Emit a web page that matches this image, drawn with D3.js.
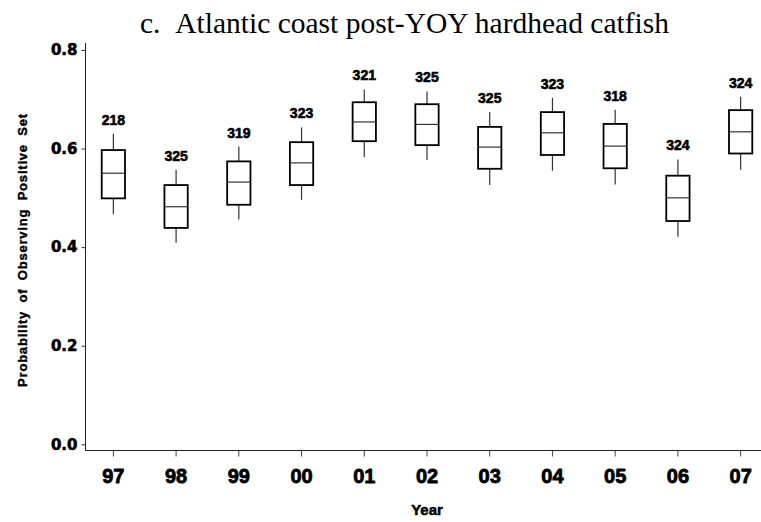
<!DOCTYPE html>
<html>
<head>
<meta charset="utf-8">
<script src="https://cdn.jsdelivr.net/npm/d3@7"></script>
<style>
  html, body { margin: 0; padding: 0; background: #fff; }
  svg { display: block; }
</style>
</head>
<body>
<svg id="chart" width="761" height="522"></svg>
<script>
const years = ["97","98","99","00","01","02","03","04","05","06","07"];
const counts = [218,325,319,323,321,325,325,323,318,324,324];
const whiskerHigh = [0.630,0.557,0.604,0.643,0.720,0.716,0.674,0.703,0.679,0.578,0.705];
const q3 =          [0.597,0.526,0.574,0.613,0.694,0.690,0.644,0.674,0.650,0.545,0.678];
const median =      [0.550,0.482,0.532,0.571,0.654,0.649,0.603,0.632,0.605,0.500,0.634];
const q1 =          [0.499,0.439,0.486,0.526,0.615,0.607,0.559,0.587,0.560,0.453,0.590];
const whiskerLow =  [0.467,0.409,0.456,0.496,0.583,0.577,0.526,0.555,0.527,0.421,0.557];
const yTicks = [0.0, 0.2, 0.4, 0.6, 0.8];

const titleText = "c.\u00a0\u00a0Atlantic coast post-YOY hardhead catfish";
const yTitle = "Probability of Observing Positive Set";
const xTitle = "Year";

const svg = d3.select("#chart");
const x = d3.scaleBand().domain(years).range([82, 772]).padding(0);
const y = d3.scaleLinear().domain([0, 0.8]).range([444.3, 50]);
const boxW = 23.3;
const axisX = 85.5, axisY = 450.5;

function heavy(sel, w) {
  sel.attr("stroke", "#000").attr("stroke-width", w).attr("stroke-linejoin", "round").attr("paint-order", "stroke");
}

// Title
svg.append("text")
  .attr("x", 404.5).attr("y", 33)
  .attr("text-anchor", "middle")
  .style("font-family", "'Liberation Serif', 'Times New Roman', serif")
  .style("font-size", "29.5px")
  .text(titleText);

// Y axis
const yAxis = d3.axisLeft(y).tickValues(yTicks).tickFormat(d3.format(".1f")).tickSize(4).tickPadding(4);
const gy = svg.append("g").attr("transform", `translate(${axisX},0)`).call(yAxis);
gy.select(".domain").remove();
gy.selectAll(".tick line").attr("stroke", "#333");
gy.selectAll(".tick text")
  .style("font-family", "'DejaVu Sans', sans-serif")
  .style("font-weight", "bold")
  .style("font-size", "15px")
  .attr("fill", "#000")
  .call(heavy, 0.6);
svg.append("line").attr("x1", axisX).attr("x2", axisX).attr("y1", 43).attr("y2", axisY)
  .attr("stroke", "#222").attr("stroke-width", 1);

// X axis
const xAxis = d3.axisBottom(x).tickSize(6).tickSizeOuter(0).tickPadding(12);
const gx = svg.append("g").attr("transform", `translate(0,${axisY})`).call(xAxis);
gx.select(".domain").remove();
gx.selectAll(".tick line").attr("stroke", "#444");
gx.selectAll(".tick text")
  .style("font-family", "'Liberation Sans', Arial, sans-serif")
  .style("font-weight", "bold")
  .style("font-size", "20px")
  .attr("fill", "#000")
  .call(heavy, 0.8);
svg.append("line").attr("x1", axisX).attr("x2", 761).attr("y1", axisY).attr("y2", axisY)
  .attr("stroke", "#222").attr("stroke-width", 1.2);

// Axis titles
svg.append("text")
  .attr("transform", "translate(27,250) rotate(-90)")
  .attr("text-anchor", "middle")
  .style("font-family", "'Liberation Sans', Arial, sans-serif")
  .style("font-weight", "bold")
  .style("font-size", "13px")
  .style("letter-spacing", "0.8px")
  .style("word-spacing", "4px")
  .call(heavy, 0.4)
  .text(yTitle);

svg.append("text")
  .attr("x", 427).attr("y", 515)
  .attr("text-anchor", "middle")
  .style("font-family", "'Liberation Sans', Arial, sans-serif")
  .style("font-weight", "bold")
  .style("font-size", "15px")
  .call(heavy, 0.5)
  .text(xTitle);

// Boxes
const data = years.map((yr, i) => ({
  yr, n: counts[i], hi: whiskerHigh[i], q3: q3[i], med: median[i], q1: q1[i], lo: whiskerLow[i]
}));

const g = svg.append("g");
const box = g.selectAll("g.box").data(data).join("g").attr("class", "box")
  .attr("transform", d => `translate(${x(d.yr) + x.bandwidth() / 2},0)`);

box.append("line").attr("x1", 0).attr("x2", 0)
  .attr("y1", d => y(d.hi)).attr("y2", d => y(d.q3))
  .attr("stroke", "#333").attr("stroke-width", 1.2);
box.append("line").attr("x1", 0).attr("x2", 0)
  .attr("y1", d => y(d.q1)).attr("y2", d => y(d.lo))
  .attr("stroke", "#333").attr("stroke-width", 1.2);
box.append("rect")
  .attr("x", -boxW / 2).attr("width", boxW)
  .attr("y", d => y(d.q3)).attr("height", d => y(d.q1) - y(d.q3))
  .attr("fill", "#fff").attr("stroke", "#000").attr("stroke-width", 1.8);
box.append("line").attr("x1", -boxW / 2).attr("x2", boxW / 2)
  .attr("y1", d => y(d.med)).attr("y2", d => y(d.med))
  .attr("stroke", "#333").attr("stroke-width", 1.2);
box.append("text")
  .attr("x", 0).attr("y", d => y(d.hi) - 9)
  .attr("text-anchor", "middle")
  .style("font-family", "'Liberation Sans', Arial, sans-serif")
  .style("font-weight", "bold")
  .style("font-size", "14px")
  .attr("fill", "#000")
  .call(heavy, 0.6)
  .text(d => d.n);
</script>
</body>
</html>
